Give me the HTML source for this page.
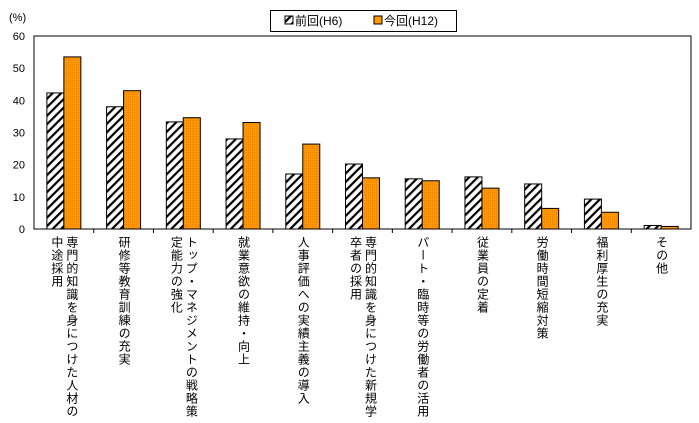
<!DOCTYPE html>
<html><head><meta charset="utf-8"><style>
body{margin:0;background:#fff;}
#wrap{position:relative;width:699px;height:423px;overflow:hidden;font-family:"Liberation Sans","Noto Sans CJK JP",sans-serif;}
.lbl{position:absolute;top:236px;writing-mode:vertical-rl;font-size:12px;letter-spacing:1px;line-height:15px;color:#000;white-space:nowrap;transform:translateX(-50%);}
</style></head><body>
<div id="wrap">
<svg id="svg" width="699" height="423" style="position:absolute;left:0;top:0">
<defs>
<pattern id="hatch" patternUnits="userSpaceOnUse" width="6" height="6" patternTransform="rotate(45)">
<rect width="6" height="6" fill="#fff"/><rect width="2.2" height="6" fill="#000"/></pattern>
<pattern id="dots" patternUnits="userSpaceOnUse" width="2" height="2">
<rect width="2" height="2" fill="#ff9900"/><rect width="1" height="1" fill="#f08000"/></pattern>
</defs>
</svg>
</div>
<script>
const categories=[["専門的知識を身につけた人材の","中途採用"],["研修等教育訓練の充実"],["トップ・マネジメントの戦略策","定能力の強化"],["就業意欲の維持・向上"],["人事評価への実績主義の導入"],["専門的知識を身につけた新規学","卒者の採用"],["パート・臨時等の労働者の活用"],["従業員の定着"],["労働時間短縮対策"],["福利厚生の充実"],["その他"]];
const prevValues=[42.3,38.0,33.3,28.0,17.1,20.2,15.6,16.2,14.0,9.3,1.1];
const currValues=[53.5,43.0,34.6,33.1,26.4,15.9,15.0,12.7,6.4,5.2,0.8];
const yTicks=[0,10,20,30,40,50,60];
const seriesNames=["前回(H6)","今回(H12)"];
const NS="http://www.w3.org/2000/svg";
const svg=document.getElementById('svg');
const wrap=document.getElementById('wrap');
const L=34,R=691,T=36,B=229,yMax=60;
const y=v=>B-(v/yMax)*(B-T);
const cw=(R-L)/categories.length;
const cx=i=>L+cw*(i+0.5);
const bw=17;
function mk(tag,attrs){const e=document.createElementNS(NS,tag);for(const k in attrs)e.setAttribute(k,attrs[k]);svg.appendChild(e);return e;}
const frame=mk('rect',{x:L,y:T,width:R-L,height:B-T,fill:'#fff',stroke:'#000','stroke-width':1});


yTicks.forEach(t=>{
  const tx=mk('text',{x:25,y:y(t)+4,'text-anchor':'end','font-size':11,'font-family':'Liberation Sans, sans-serif'});
  tx.textContent=t;
  
  
});
const pc=mk('text',{x:9,y:21,'font-size':11,'font-family':'Liberation Sans, Noto Sans CJK JP, sans-serif'});
pc.textContent='(%)';


for(let i=1;i<categories.length;i++){
  const tk=mk('line',{x1:L+cw*i,x2:L+cw*i,y1:B,y2:B+4,stroke:'#000'});
  
  
}
categories.forEach((c,i)=>{
  const b1=mk('rect',{x:cx(i)-bw,y:y(prevValues[i]),width:bw,height:B-y(prevValues[i]),fill:'url(#hatch)',stroke:'#000','stroke-width':1});
  
  
  const b2=mk('rect',{x:cx(i),y:y(currValues[i]),width:bw,height:B-y(currValues[i]),fill:'url(#dots)',stroke:'#000','stroke-width':1});
  
  
  const d=document.createElement('div');
  d.className='lbl';
  d.style.left=cx(i)+'px';
  d.innerHTML=c.join('<br>');
  
  
  wrap.appendChild(d);
});
const lg=mk('rect',{x:270.5,y:10.5,width:186,height:21,fill:'#fff',stroke:'#000'});


const s1=mk('rect',{x:285,y:16,width:8,height:8,fill:'url(#hatch)',stroke:'#000'});


const t1=mk('text',{x:295,y:25,'font-size':12,'font-family':'Liberation Sans, Noto Sans CJK JP, sans-serif'});
t1.textContent=seriesNames[0];


const s2=mk('rect',{x:374,y:16,width:8,height:8,fill:'#ff9900',stroke:'#000'});


const t2=mk('text',{x:384,y:25,'font-size':12,'font-family':'Liberation Sans, Noto Sans CJK JP, sans-serif'});
t2.textContent=seriesNames[1];


</script>
</body></html>
